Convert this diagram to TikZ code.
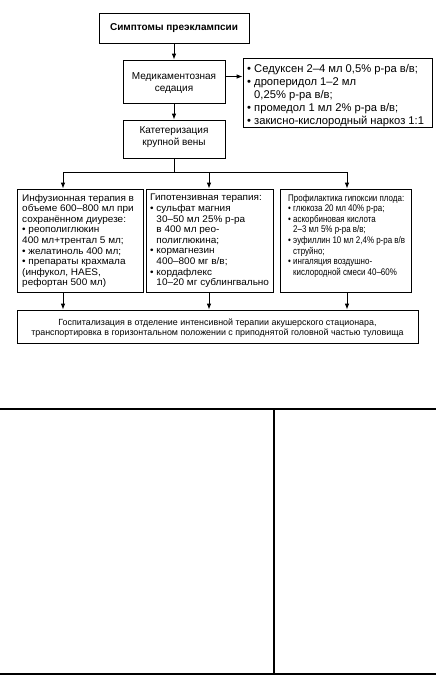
\documentclass[tikz,border=0pt]{standalone}
\usepackage{fontspec}
\setmainfont{Liberation Sans}
\newfontfamily\colfont[FakeStretch=1.04]{Liberation Sans}
\newfontfamily\narrowfont[FakeStretch=0.83]{Liberation Sans}
\usetikzlibrary{arrows.meta}
\newcommand{\ind}{\phantom{•\ }}
\begin{document}
\begin{tikzpicture}[x=1pt,y=-1pt,
  box/.style={draw, line width=0.8pt, inner sep=0pt},
  arr/.style={-{Latex[length=6pt,width=4.5pt]}, line width=0.8pt},
  ln/.style={line width=0.8pt},
  tbl/.style={line width=1.1pt},
  coltxt/.style={inner sep=0pt, align=left, anchor=north west, font=\colfont\fontsize{9.6}{10.6}\selectfont},
  narrowtxt/.style={coltxt, font=\narrowfont\fontsize{9.6}{10.6}\selectfont},
  listtxt/.style={inner sep=0pt, align=left, anchor=west, font=\fontsize{11.2}{13}\selectfont},
  mid/.style={align=center, font=\fontsize{10}{12.7}\selectfont}]
\useasboundingbox (0,0) rectangle (438,675);

\node[box, minimum width=150pt, minimum height=30pt, font=\bfseries\fontsize{10}{12}\selectfont] (top) at (174,28) {Симптомы преэклампсии};
\node[box, minimum width=102pt, minimum height=43pt] (med) at (174,81.5) {};
\node[mid] (medt) at (174,83) {Медикаментозная\\седация};
\node[box, minimum width=189pt, minimum height=69pt] (list) at (337.5,92.5) {};
\node[listtxt] (listt) at (247,95.5) {• Седуксен 2–4 мл 0,5\% р-ра в/в;\\• дроперидол 1–2 мл\\\ind 0,25\% р-ра в/в;\\• промедол 1 мл 2\% р-ра в/в;\\• закисно-кислородный наркоз 1:1};
\node[box, minimum width=102pt, minimum height=38pt] (cath) at (174,139) {};
\node[mid] (catht) at (174,137) {Катетеризация\\крупной вены};

\node[box, minimum width=126pt, minimum height=103pt] (left) at (80,240.5) {};
\node[box, minimum width=127pt, minimum height=103pt] (center) at (209.5,240.5) {};
\node[box, minimum width=131pt, minimum height=103pt] (right) at (345.5,240.5) {};

\node[coltxt] (leftt) at (22,194) {Инфузионная терапия в\\объеме 600–800 мл при\\сохранённом диурезе:\\• реополиглюкин\\400 мл+трентал 5 мл;\\• желатиноль 400 мл;\\• препараты крахмала\\(инфукол, HAES,\\рефортан 500 мл)};
\node[coltxt] (centert) at (150,194) {Гипотензивная терапия:\\• сульфат магния\\\ind 30–50 мл 25\% р-ра\\\ind в 400 мл рео-\\\ind полиглюкина;\\• кормагнезин\\\ind 400–800 мг в/в;\\• кордафлекс\\\ind 10–20 мг сублингвально};
\node[narrowtxt] (rightt) at (288,194) {Профилактика гипоксии плода:\\• глюкоза 20 мл 40\% р-ра;\\• аскорбиновая кислота\\\ind 2–3 мл 5\% р-ра в/в;\\• эуфиллин 10 мл 2,4\% р-ра в/в\\\ind струйно;\\• ингаляция воздушно-\\\ind кислородной смеси 40–60\%};

\node[box, minimum width=401pt, minimum height=33pt] (bot) at (217.5,326.5) {};
\node[align=center, inner sep=0pt, font=\fontsize{8.9}{10}\selectfont] (bott) at (217.5,328) {Госпитализация в отделение интенсивной терапии акушерского стационара,\\транспортировка в горизонтальном положении с приподнятой головной частью туловища};

\coordinate (jC) at (174,172);
\coordinate (jL) at (63,172);
\coordinate (jM) at (209,172);
\coordinate (jR) at (347,172);

\draw[arr] (top) -- (med);
\draw[arr] ([yshift=5pt]med.east) -- ([yshift=5pt]med.east -| list.west);
\draw[arr] (med) -- (cath);
\draw[ln] (cath.south) -- (jC);
\draw[ln] (jL) -- (jR);
\draw[arr] (jL) -- (jL |- left.north);
\draw[arr] (jM) -- (jM |- center.north);
\draw[arr] (jR) -- (jR |- right.north);
\draw[arr] (left.south -| jL) -- (jL |- bot.north);
\draw[arr] (center.south -| jM) -- (jM |- bot.north);
\draw[arr] (right.south -| jR) -- (jR |- bot.north);

\draw[tbl] (0,409) -- (436,409);
\draw[tbl] (274,409) -- (274,674);
\draw[tbl] (0,674) -- (436,674);
\end{tikzpicture}
\end{document}
